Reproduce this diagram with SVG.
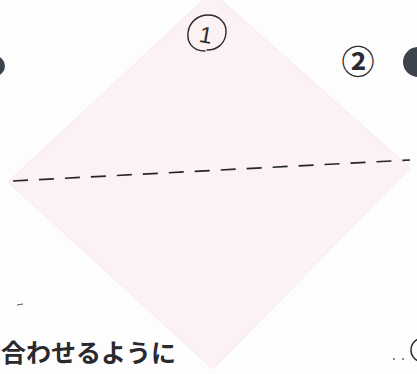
<svg xmlns="http://www.w3.org/2000/svg" width="417" height="374" viewBox="0 0 417 374">
<style>
.paper{fill:#fcf2f4;stroke:#f5e4e8;stroke-width:0.8}
.fold{fill:none;stroke:#262629;stroke-width:1.7;stroke-dasharray:15 11}
.dot{fill:#3d434c}
.jp{font-family:"Noto Sans CJK JP",sans-serif;font-weight:bold;fill:#2a2a2e}
.hand{fill:none;stroke:#2a2a2a;stroke-width:1.4;stroke-linecap:round}
</style>
<rect width="417" height="374" fill="#fefdfd"/>
<g id="paper">
<polygon class="paper" points="212,-8 410,168 213,369 8,182"/>
</g>
<g id="connectors">
<path class="fold" d="M13,181 L410,160"/>
</g>
<g id="step1">
<path class="hand" d="M205,51 C192,51 187,42 188,33 C189,22 198,15 208,15 C219,15 227,23 226,33 C225,44 217,50 207,50"/>
<text x="206" y="43" font-family="Liberation Sans" font-size="23" text-anchor="middle" fill="#2a2a2a" transform="rotate(10 206 34)">1</text>
</g>
<g id="step2">
<text class="jp" x="358" y="74" font-size="33" font-weight="900" text-anchor="middle">②</text>
<circle class="dot" cx="418" cy="62" r="15"/>
</g>
<g id="leftdot">
<circle class="dot" cx="-5" cy="66" r="10"/>
</g>
<g id="caption">
<text class="jp" x="1" y="362" font-size="25">合わせるように</text>
</g>
<g id="step4">
<circle cx="394" cy="359" r="0.9" fill="#555"/>
<circle cx="403" cy="359" r="0.9" fill="#555"/>
<circle cx="423" cy="350" r="12" fill="none" stroke="#2a2a2a" stroke-width="1.5"/>
</g>
<path d="M17,305 L23,304" stroke="#555" stroke-width="1"/>
</svg>
